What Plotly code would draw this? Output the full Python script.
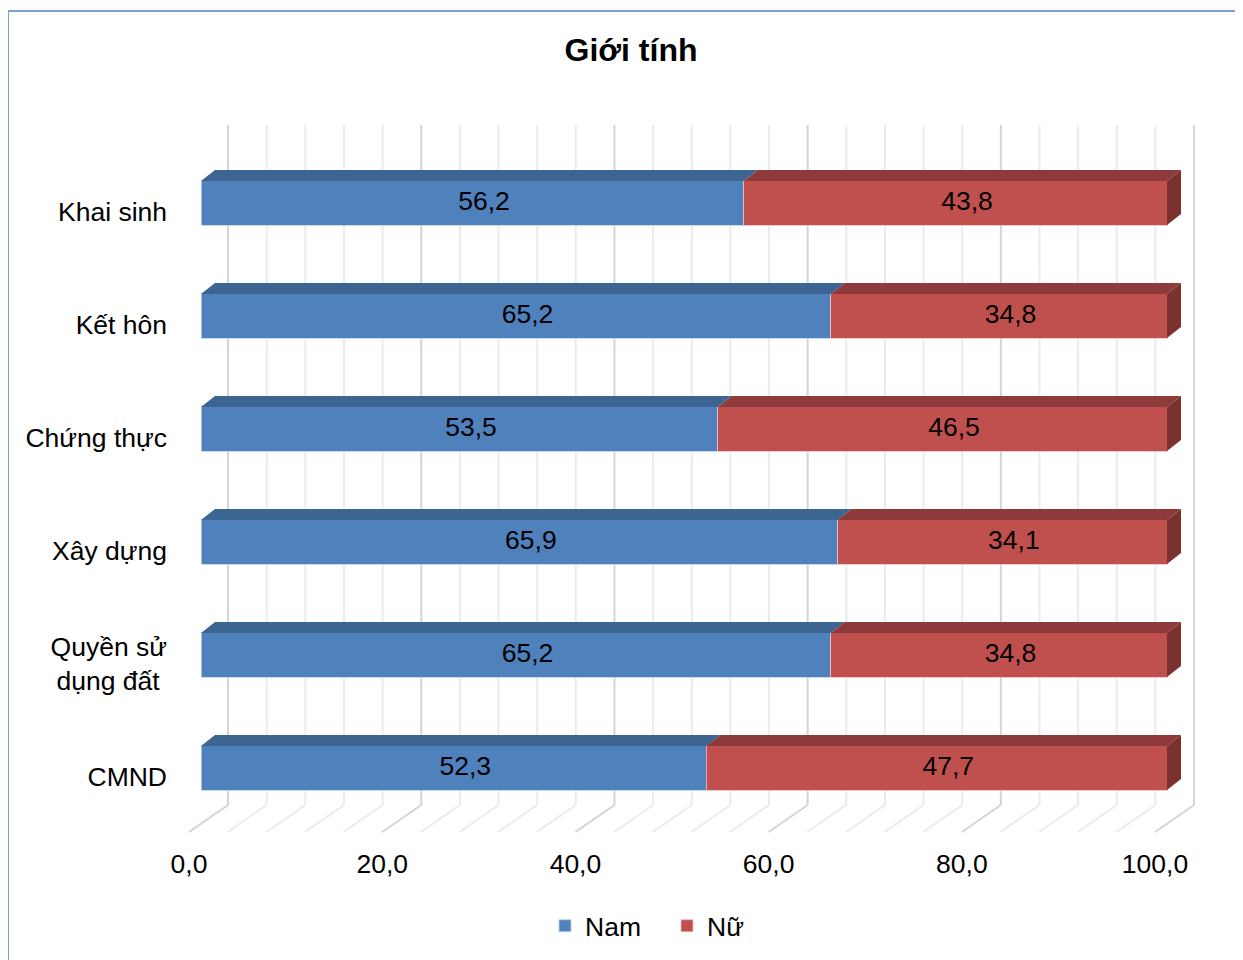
import plotly.graph_objects as go

# ---------------- data ----------------
categories = ["Khai sinh", "Kết hôn", "Chứng thực", "Xây dựng", "Quyền sử<br>dụng đất\u00a0", "CMND"]
nam = [56.2, 65.2, 53.5, 65.9, 65.2, 52.3]
nu = [43.8, 34.8, 46.5, 34.1, 34.8, 47.7]
series_names = ["Nam", "Nữ"]
x_ticks = [0, 20, 40, 60, 80, 100]
x_tick_labels = ["0,0", "20,0", "40,0", "60,0", "80,0", "100,0"]
title_text = "Giới tính"

# ---------------- style ----------------
FONT = "Liberation Sans, Arial, sans-serif"
FS = 26.5
BLUE, BLUE_TOP = "#4F81BD", "#3D6591"
RED, RED_TOP, RED_SIDE = "#C0504D", "#8E3A3A", "#7C3131"
BAR_W = 0.39          # bar thickness (category units)
DX, DY = 1.45, 0.097  # 3D depth offset of bars
WALL_DX = 2.8         # back wall offset
FLOOR_DX = -1.24      # front floor edge offset
LABEL_DX = 1.2        # label shift (3D box centre)
WALL_TOP, WALL_BOT, FLOOR_FRONT = 5.69, -0.327, -0.566

OFF = 8  # page body margin
W, H = 1243, 960
# plot area in screen pixels: x 180..1210, y 110..840
L, R, T, B = 180 - OFF, W - (1210 - OFF), 110 - OFF, H - (840 - OFF)
PW, PH = W - L - R, H - T - B


def fmt(v):
    return f"{v:.1f}".replace(".", ",")


def px_x(p):  # screen px -> paper x
    return (p - OFF - L) / PW


def px_y(p):  # screen px -> paper y
    return (H - B - (p - OFF)) / PH


n = len(categories)
ypos = [n - 1 - i for i in range(n)]

fig = go.Figure()

# front faces
fig.add_trace(go.Bar(
    y=ypos, x=nam, orientation="h", name=series_names[0], width=BAR_W,
    marker=dict(color=BLUE, line=dict(color="rgba(190,210,235,0.8)", width=1)),
    hoverinfo="x+name",
))
fig.add_trace(go.Bar(
    y=ypos, x=nu, orientation="h", name=series_names[1], width=BAR_W,
    marker=dict(color=RED, line=dict(color="rgba(235,190,190,0.8)", width=1)),
    hoverinfo="x+name",
))


def top_face(a, b, yc):
    yt = yc + BAR_W / 2
    return [a, b, b + DX, a + DX, a, None], [yt, yt, yt + DY, yt + DY, yt, None]


def side_face(b, yc):
    yt = yc + BAR_W / 2
    yb = yc - BAR_W / 2
    return [b, b, b + DX, b + DX, b, None], [yb, yt, yt + DY, yb + DY, yb, None]


bx, by, rx, ry, sx, sy = [], [], [], [], [], []
for yc, a, b in zip(ypos, nam, nu):
    xs, ys = top_face(0, a, yc)
    bx += xs; by += ys
    xs, ys = top_face(a, a + b, yc)
    rx += xs; ry += ys
    xs, ys = side_face(a + b, yc)
    sx += xs; sy += ys

for xs, ys, c in [(bx, by, BLUE_TOP), (rx, ry, RED_TOP), (sx, sy, RED_SIDE)]:
    fig.add_trace(go.Scatter(x=xs, y=ys, mode="lines", fill="toself", fillcolor=c,
                             line=dict(width=0, color=c), showlegend=False, hoverinfo="skip"))

# data labels (centre of each 3D segment)
lx, ly, lt = [], [], []
for yc, a, b in zip(ypos, nam, nu):
    lx += [a / 2 + LABEL_DX, a + b / 2 + LABEL_DX]
    ly += [yc, yc]
    lt += [fmt(a), fmt(b)]
fig.add_trace(go.Scatter(x=lx, y=ly, text=lt, mode="text", textposition="middle center",
                         textfont=dict(size=FS, color="black", family=FONT),
                         showlegend=False, hoverinfo="skip"))

# back wall + floor grid
shapes = []
for g in range(0, 101, 4):
    major = g % 20 == 0
    col = "#D4D4D4" if major else "#EBEBEB"
    shapes.append(dict(type="line", xref="x", yref="y", x0=g + WALL_DX, x1=g + WALL_DX,
                       y0=WALL_BOT, y1=WALL_TOP, line=dict(color=col, width=2), layer="below"))
    shapes.append(dict(type="line", xref="x", yref="y", x0=g + WALL_DX, x1=g + FLOOR_DX,
                       y0=WALL_BOT, y1=FLOOR_FRONT, line=dict(color=col, width=2), layer="below"))

# chart area border
shapes.append(dict(type="rect", xref="paper", yref="paper", x0=px_x(8), x1=px_x(1280),
                   y0=px_y(1000), y1=px_y(11), line=dict(color="#7BA0D4", width=2),
                   fillcolor="rgba(0,0,0,0)", layer="above"))

fig.update_layout(
    width=W, height=H,
    margin=dict(l=L, r=R, t=T, b=B),
    barmode="stack",
    plot_bgcolor="white", paper_bgcolor="white",
    font=dict(family=FONT, size=FS, color="black"),
    title=dict(text=f"<b>{title_text}</b>", x=(631 - OFF) / W, xref="container", xanchor="center",
               y=1 - (50 - OFF) / H, yref="container", yanchor="middle",
               font=dict(size=32, family=FONT, color="black")),
    xaxis=dict(range=[(180 - 201) / 9.66, (1210 - 201) / 9.66], showgrid=False, zeroline=False,
               tickvals=[t + FLOOR_DX for t in x_ticks], ticktext=x_tick_labels, ticks="",
               tickfont=dict(size=FS), showline=False, fixedrange=True, ticklabelstandoff=5),
    yaxis=dict(range=[(768 - 840) / 113, (768 - 110) / 113], showgrid=False, zeroline=False,
               tickvals=[y - 0.075 for y in ypos], ticktext=categories, ticks="",
               tickfont=dict(size=FS), showline=False, ticklabelstandoff=12),
    legend=dict(orientation="h", x=px_x(667), xanchor="center", y=px_y(926), yanchor="middle",
                font=dict(size=FS), traceorder="normal", bgcolor="rgba(0,0,0,0)",
                entrywidth=77, entrywidthmode="pixels", itemwidth=30),
    shapes=shapes,
    showlegend=True,
)

fig.write_html("out.html")
